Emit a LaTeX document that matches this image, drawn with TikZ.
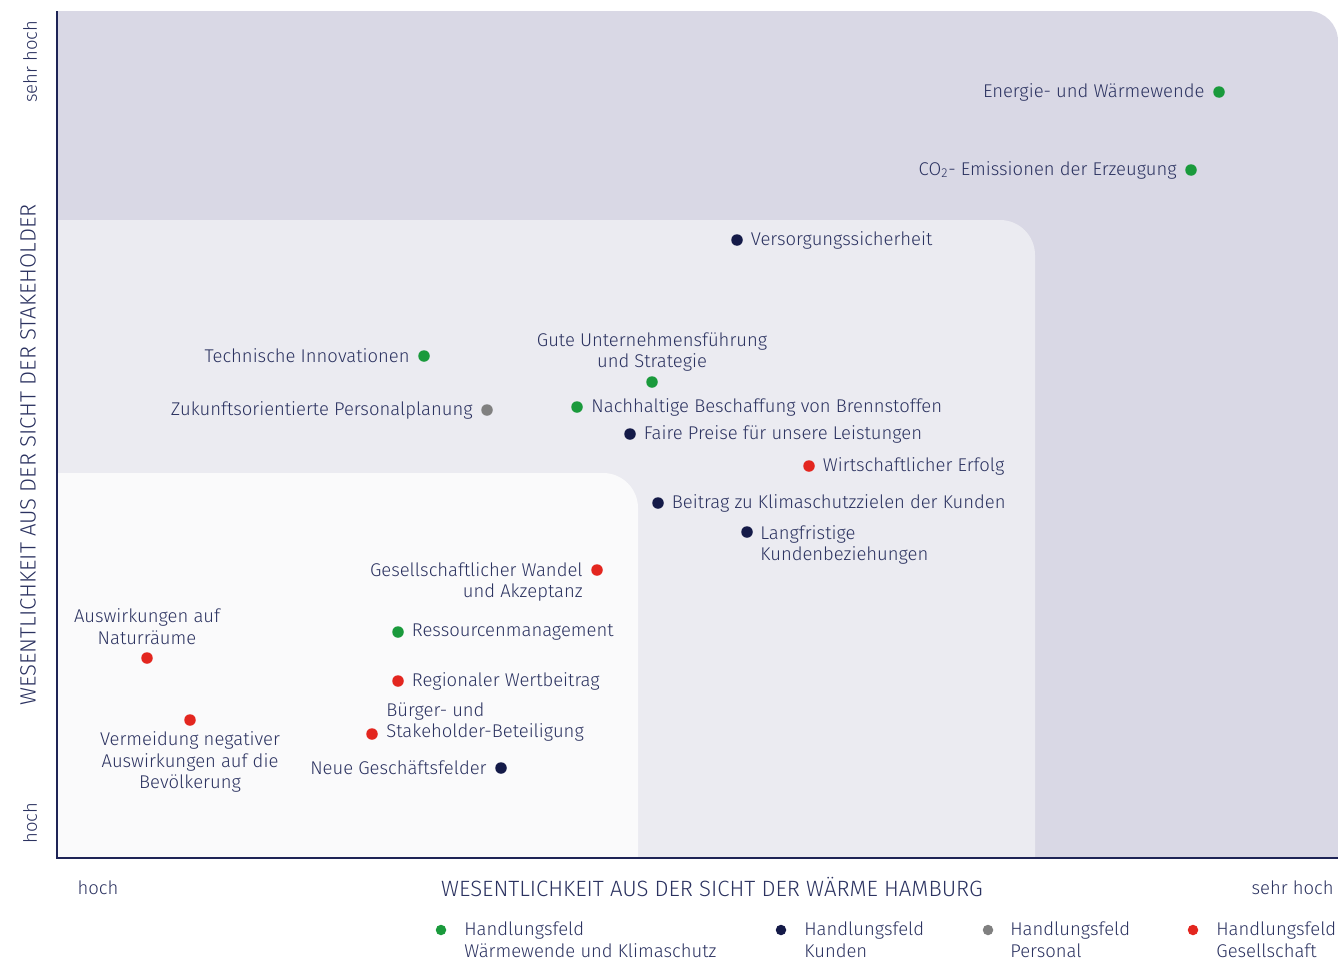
\documentclass[tikz,border=0pt]{standalone}
\usepackage{fontspec}
\setmainfont{Fira Sans Light}
\usetikzlibrary{positioning}
\definecolor{bgdark}{RGB}{217,216,229}
\definecolor{bgmid}{RGB}{235,235,241}
\definecolor{bglight}{RGB}{250,250,251}
\definecolor{axisnavy}{RGB}{30,36,86}
\definecolor{txt}{RGB}{43,50,96}
\definecolor{dgreen}{RGB}{26,154,60}
\definecolor{dnavy}{RGB}{20,26,72}
\definecolor{dgray}{RGB}{128,128,128}
\definecolor{dred}{RGB}{227,38,31}
\tikzset{
  dot/.style={circle,fill=#1,inner sep=0pt,minimum size=0.23cm},
  lbl/.style={text=txt,inner sep=0pt,font=\fontsize{10.5}{12.4}\selectfont},
  axtitle/.style={text=txt,inner sep=0pt,font=\fontsize{12.6}{14}\selectfont},
  axisline/.style={axisnavy,line width=0.04cm}
}
\begin{document}
\begin{tikzpicture}[x=0.02cm,y=-0.02cm]
\useasboundingbox (0,0) rectangle (1338,960);
% fields
\fill[bgdark](57,858)--(57,11)[rounded corners=0.6cm]--(1338,11)[sharp corners]--(1338,858)--cycle;
\fill[bgmid](57,858)--(57,220)[rounded corners=0.7cm]--(1035,220)[sharp corners]--(1035,858)--cycle;
\fill[bglight](57,858)--(57,473)[rounded corners=0.7cm]--(638,473)[sharp corners]--(638,858)--cycle;
\draw[axisline](57,11)--(57,858)--(1338,858);
% axes
\node[axtitle,rotate=90](ytitle) at (28,455){WESENTLICHKEIT AUS DER SICHT DER STAKEHOLDER};
\node[lbl,rotate=90](yhigh) at (30,62){sehr hoch};
\node[lbl,rotate=90](ylow) at (30,823){hoch};
\node[lbl](xlow) at (98,888){hoch};
\node[axtitle](xtitle) at (712,887){WESENTLICHKEIT AUS DER SICHT DER WÄRME HAMBURG};
\node[lbl,anchor=east](xhigh) at (1334,888){sehr hoch};
% topics
\node[dot=dgreen](e1) at (1219,92){};
\node[lbl,left=0.16cm of e1](e1t){Energie- und Wärmewende};
\node[dot=dgreen](e2) at (1191,170){};
\node[lbl,left=0.16cm of e2](e2t){CO\textsubscript{2}- Emissionen der Erzeugung};
\node[dot=dnavy](k1) at (737,240){};
\node[lbl,right=0.15cm of k1](k1t){Versorgungssicherheit};
\node[dot=dgreen](e3) at (424,356){};
\node[lbl,left=0.16cm of e3](e3t){Technische Innovationen};
\node[dot=dgray](p1) at (487,410){};
\node[lbl,left=0.16cm of p1](p1t){Zukunftsorientierte Personalplanung};
\node[dot=dgreen](e4) at (652,382){};
\node[lbl,align=center](e4t) at (652,352){Gute Unternehmensführung\\und Strategie};
\node[dot=dgreen](e5) at (577,407){};
\node[lbl,right=0.16cm of e5](e5t){Nachhaltige Beschaffung von Brennstoffen};
\node[dot=dnavy](k2) at (630,434){};
\node[lbl,right=0.15cm of k2](k2t){Faire Preise für unsere Leistungen};
\node[dot=dred](g1) at (809,466){};
\node[lbl,right=0.15cm of g1](g1t){Wirtschaftlicher Erfolg};
\node[dot=dnavy](k3) at (658,503){};
\node[lbl,right=0.15cm of k3](k3t){Beitrag zu Klimaschutzzielen der Kunden};
\node[dot=dnavy](k4) at (747,532){};
\node[lbl,align=left,anchor=west](k4t) at (760,545){Langfristige\\Kundenbeziehungen};
\node[dot=dred](g2) at (597,570){};
\node[lbl,align=right,anchor=east](g2t) at (583,582){Gesellschaftlicher Wandel\\und Akzeptanz};
\node[dot=dred](g3) at (147,658){};
\node[lbl,align=center](g3t) at (147,627){Auswirkungen auf\\Naturräume};
\node[dot=dgreen](e6) at (398,632){};
\node[lbl,right=0.15cm of e6](e6t){Ressourcenmanagement};
\node[dot=dred](g4) at (398,681){};
\node[lbl,right=0.15cm of g4](g4t){Regionaler Wertbeitrag};
\node[dot=dred](g5) at (190,720){};
\node[lbl,align=center](g5t) at (190,762){Vermeidung negativer\\Auswirkungen auf die\\Bevölkerung};
\node[dot=dred](g6) at (372,734){};
\node[lbl,align=left,anchor=west](g6t) at (386,722){Bürger- und\\Stakeholder-Beteiligung};
\node[dot=dnavy](k5) at (501,768){};
\node[lbl,left=0.16cm of k5](k5t){Neue Geschäftsfelder};
% legend
\node[dot=dgreen,minimum size=0.21cm](l1) at (441,930){};
\node[lbl,align=left,anchor=west](l1t) at (464,940){Handlungsfeld\\Wärmewende und Klimaschutz};
\node[dot=dnavy,minimum size=0.21cm](l2) at (781,930){};
\node[lbl,align=left,anchor=west](l2t) at (804,940){Handlungsfeld\\Kunden};
\node[dot=dgray,minimum size=0.21cm](l3) at (988,930){};
\node[lbl,align=left,anchor=west](l3t) at (1010,940){Handlungsfeld\\Personal};
\node[dot=dred,minimum size=0.21cm](l4) at (1193,930){};
\node[lbl,align=left,anchor=west](l4t) at (1216,940){Handlungsfeld\\Gesellschaft};
\end{tikzpicture}
\end{document}
